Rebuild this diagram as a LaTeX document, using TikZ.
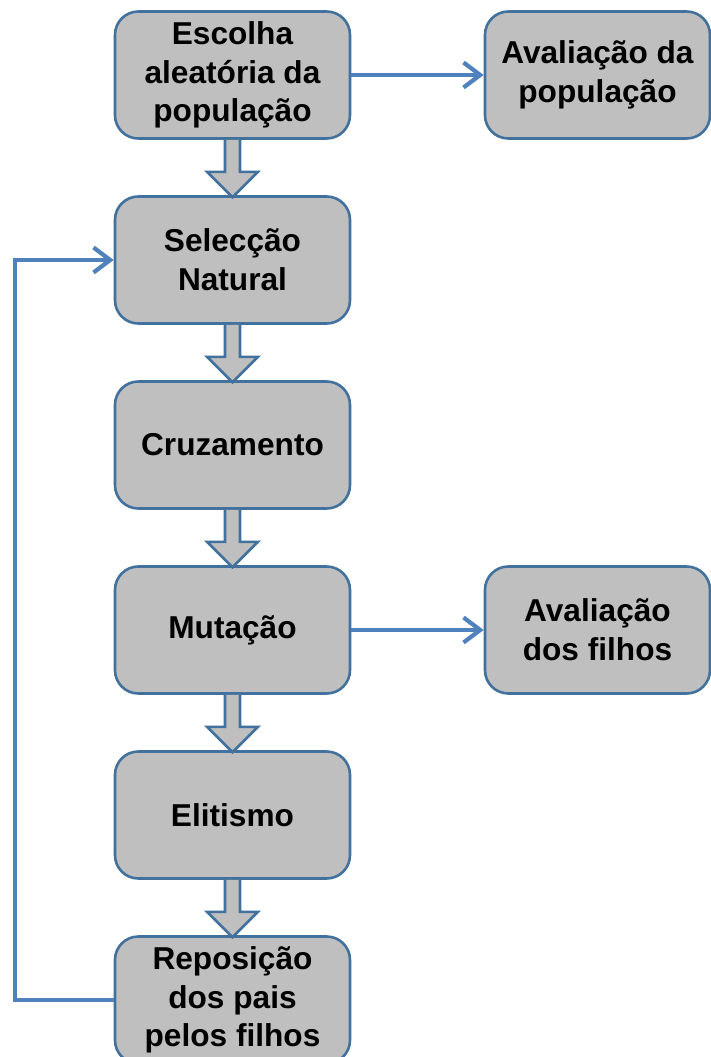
\documentclass[tikz,border=0pt]{standalone}
\usepackage{fontspec}
\setmainfont{Liberation Sans}
\usepackage{tikz}
\usetikzlibrary{arrows.meta, positioning, backgrounds}
\definecolor{boxgray}{HTML}{BFBFBF}
\definecolor{boxblue}{HTML}{41719C}
\definecolor{linkblue}{HTML}{4F81BD}
\tikzstyle{block} = [rectangle, rounded corners=0.7cm, minimum width=7.05cm, minimum height=3.81cm, align=center, draw=boxblue, line width=2.2pt, fill=boxgray, font=\fontsize{27}{33}\selectfont\bfseries]
\tikzstyle{sideblock} = [block, minimum width=6.75cm]
\tikzstyle{arrow} = [-{Straight Barb[length=0.5cm, width=0.75cm]}, draw=linkblue, line width=3.6pt]
\tikzstyle{fat} = [draw=boxblue, line width=2.2pt, fill=boxgray, line join=miter]
\newcommand{\fatarrow}[1]{\draw [fat] ([xshift=-0.225cm]#1.south) -- ++(0,-0.96) -- ++(-0.54,0) -- ++(0.765,-0.765) -- ++(0.765,0.765) -- ++(-0.54,0) -- ++(0,0.96);}

\begin{document}
\begin{tikzpicture}[node distance=5.55cm, background rectangle/.style={fill=white}, show background rectangle, inner frame sep=0pt]

    \useasboundingbox (-6.975, 2.25) rectangle (14.355, -29.46);

    \node (block0) [block] at (0, 0) {Escolha\\aleatória da\\população};
    \node (block1) [block, below of=block0] {Selecção\\Natural};
    \node (block2) [block, below of=block1] {Cruzamento};
    \node (block3) [block, below of=block2] {Mutação};
    \node (block4) [block, below of=block3] {Elitismo};
    \node (block5) [block, below of=block4] {Reposição\\dos pais\\pelos filhos};

    \node (eval0) [sideblock, right of=block0, node distance=10.95cm] {Avaliação da\\população};
    \node (eval1) [sideblock, right of=block3, node distance=10.95cm] {Avaliação\\dos filhos};

    \fatarrow{block0}
    \fatarrow{block1}
    \fatarrow{block2}
    \fatarrow{block3}
    \fatarrow{block4}

    \draw [arrow] (block0) -- (eval0);
    \draw [arrow] (block3) -- (eval1);
    \draw [arrow] (block5.west) -- ++(-2.95, 0) |- (block1.west);

\end{tikzpicture}
\end{document}
